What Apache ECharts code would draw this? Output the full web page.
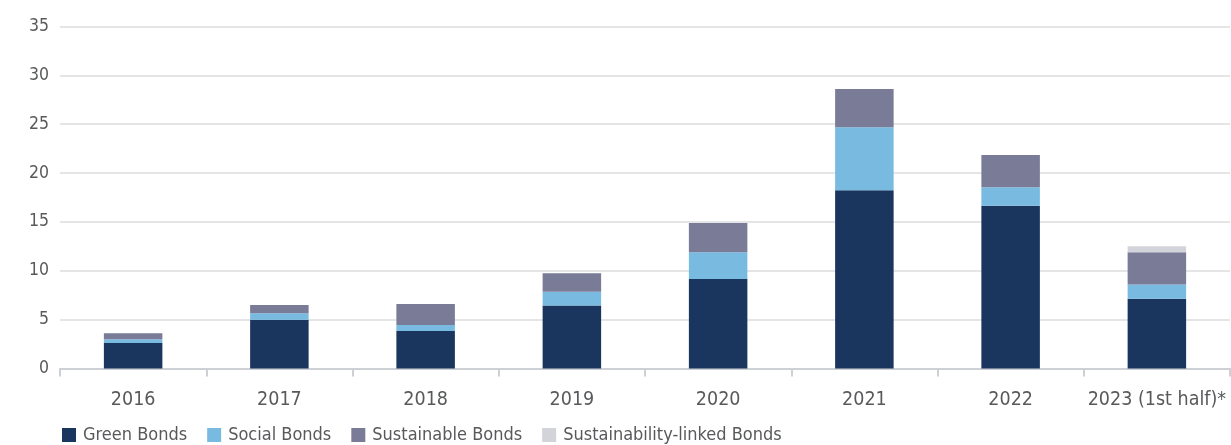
<!DOCTYPE html>
<html>
<head>
<meta charset="utf-8">
<script src="https://cdn.jsdelivr.net/npm/echarts@6/dist/echarts.min.js"></script>
<style>
  html, body { margin: 0; padding: 0; background: #fff; }
  #chart { width: 1231px; height: 445px; }
</style>
</head>
<body>
<div id="chart"></div>
<script>
// Annual issuance by bond type (stacked)
const categories = ['2016', '2017', '2018', '2019', '2020', '2021', '2022', '2023 (1st half)*'];
const greenBonds = [2.6, 5.0, 3.85, 6.45, 9.15, 18.25, 16.65, 7.15];
const socialBonds = [0.4, 0.65, 0.6, 1.4, 2.75, 6.45, 1.9, 1.45];
const sustainableBonds = [0.6, 0.85, 2.15, 1.9, 3.0, 3.9, 3.3, 3.3];
const sustainabilityLinkedBonds = [0, 0, 0, 0, 0, 0, 0, 0.6];
const yTicks = { min: 0, max: 35, interval: 5 };

const FONT = "'DejaVu Sans Condensed', 'Liberation Sans Narrow', 'Open Sans', sans-serif";
const TEXT = '#58595b';

function barSeries(name, data, color) {
  return {
    name: name,
    type: 'bar',
    stack: 'total',
    data: data,
    barWidth: '40%',
    itemStyle: { color: color },
    emphasis: { disabled: true }
  };
}

const chart = echarts.init(document.getElementById('chart'), null, { renderer: 'canvas' });
chart.setOption({
  animation: false,
  textStyle: { fontFamily: FONT },
  grid: { left: 60, right: 1, top: 26.5, bottom: 76.5, containLabel: false },
  legend: {
    left: 62,
    top: 426,
    padding: 0,
    itemWidth: 14,
    itemHeight: 14,
    itemGap: 20,
    icon: 'rect',
    textStyle: { fontFamily: FONT, fontSize: 18, color: TEXT, padding: [0, 0, 0, 2] },
    data: ['Green Bonds', 'Social Bonds', 'Sustainable Bonds', 'Sustainability-linked Bonds']
  },
  xAxis: {
    type: 'category',
    data: categories,
    axisLine: { show: true, lineStyle: { color: '#cdd0d4', width: 2 } },
    axisTick: { show: true, length: 8, lineStyle: { color: '#cdd0d4', width: 2 } },
    axisLabel: { fontFamily: FONT, fontSize: 19.5, color: TEXT, margin: 21, interval: 0 }
  },
  yAxis: {
    type: 'value',
    min: yTicks.min,
    max: yTicks.max,
    interval: yTicks.interval,
    axisLine: { show: false },
    axisTick: { show: false },
    splitLine: { lineStyle: { color: '#dcdde1', width: 1.5 } },
    axisLabel: { fontFamily: FONT, fontSize: 17.5, color: TEXT, margin: 11 }
  },
  series: [
    barSeries('Green Bonds', greenBonds, '#1a355e'),
    barSeries('Social Bonds', socialBonds, '#79bbe0'),
    barSeries('Sustainable Bonds', sustainableBonds, '#797b97'),
    barSeries('Sustainability-linked Bonds', sustainabilityLinkedBonds, '#d2d4d9')
  ]
});
</script>
</body>
</html>
